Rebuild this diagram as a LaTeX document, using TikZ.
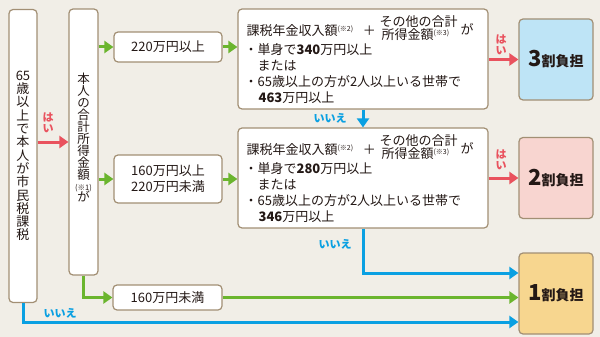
\documentclass[tikz,border=0pt]{standalone}
\usepackage{fontspec}
\setmainfont{Noto Sans CJK JP}
\usetikzlibrary{arrows.meta,calc}
\definecolor{bg}{HTML}{F1EEE7}
\definecolor{bord}{HTML}{A28F74}
\definecolor{ared}{HTML}{E9525E}
\definecolor{agreen}{HTML}{6BB52E}
\definecolor{ablue}{HTML}{0AA0E2}
\definecolor{fblue}{HTML}{BEE4F6}
\definecolor{fpink}{HTML}{F8D5D0}
\definecolor{fyel}{HTML}{F7D68F}
\definecolor{ink}{HTML}{231815}
\newcommand\notesup[1]{\raisebox{4pt}{\fontsize{7}{7}\selectfont (※#1)}}
\newcommand\condtext[3]{%
  \node[txt, anchor=west] (#1t1) at ($(#1.north west)+(9,22)$) {課税年金収入額\notesup{2}};
  \node[txt] (#1t2) at ($(#1.north west)+(132,22)$) {＋};
  \node[txt, anchor=west] (#1t3) at ($(#1.north west)+(142,13)$) {その他の合計};
  \node[txt, anchor=west] (#1t4) at ($(#1.north west)+(144,26)$) {所得金額\notesup{3}};
  \node[txt, anchor=west] (#1t5) at ($(#1.north west)+(223,21)$) {が};
  \node[txt, anchor=west] (#1t6) at ($(#1.north west)+(7,41)$) {・単身で\textbf{#2}万円以上};
  \node[txt, anchor=west] (#1t7) at ($(#1.north west)+(20,57)$) {または};
  \node[txt, anchor=west] (#1t8) at ($(#1.north west)+(7,73)$) {・65歳以上の方が2人以上いる世帯で};
  \node[txt, anchor=west] (#1t9) at ($(#1.north west)+(21,89)$) {\textbf{#3}万円以上};
}
\begin{document}
\begin{tikzpicture}[x=1pt,y=-1pt,
  box/.style={draw=bord, line width=1.2pt, rounded corners=4pt, fill=white, inner sep=0pt, text=ink},
  txt/.style={inner sep=0pt, text=ink, font=\fontsize{13}{16}\selectfont},
  arr/.style={line width=3pt, -{Triangle[length=9pt,width=12pt]}},
  lab/.style={inner sep=0pt, font=\fontsize{11}{11}\selectfont\bfseries, align=center},
  res/.style={box, minimum width=74pt, minimum height=81pt}]
\fill[bg] (0,0) rectangle (600,337);
\useasboundingbox (0,0) rectangle (600,337);

% nodes
\node[box, minimum width=28pt, minimum height=293pt, align=center, font=\fontsize{13}{13.3}\selectfont] (A) at (23,156)
  {65\\歳\\以\\上\\で\\本\\人\\が\\市\\民\\税\\課\\税};
\node[box, minimum width=29pt, minimum height=266pt] (B) at (83.5,142) {};
\node[inner sep=0pt, align=center, text=ink, font=\fontsize{12.5}{12.1}\selectfont] (Bt) at (83.5,137.5)
  {本\\人\\の\\合\\計\\所\\得\\金\\額\\[-1.1pt]{\fontsize{7.5}{8}\selectfont(※1)}\\[-1.1pt]が};
\node[box, minimum width=108pt, minimum height=30pt, font=\fontsize{13}{16}\selectfont] (N1) at (168,47) {220万円以上};
\node[box, minimum width=108pt, minimum height=48pt, align=center, font=\fontsize{13}{16}\selectfont] (N2) at (168,179) {160万円以上\\220万円未満};
\node[box, minimum width=109pt, minimum height=25pt, font=\fontsize{13}{16}\selectfont] (N3) at (167.5,297.5) {160万円未満};
\node[box, minimum width=250pt, minimum height=100pt] (C1) at (363,59) {};
\node[box, minimum width=250pt, minimum height=100pt] (C2) at (363,178) {};
\condtext{C1}{340}{463}
\condtext{C2}{280}{346}
\node[res, fill=fblue] (R3) at (556,59.5) {\bfseries\fontsize{22}{22}\selectfont 3\fontsize{14}{14}\selectfont 割負担};
\node[res, fill=fpink] (R2) at (556,178) {\bfseries\fontsize{22}{22}\selectfont 2\fontsize{14}{14}\selectfont 割負担};
\node[res, fill=fyel] (R1) at (556,293.5) {\bfseries\fontsize{22}{22}\selectfont 1\fontsize{14}{14}\selectfont 割負担};

\coordinate (r1a) at ($(R1.west)+(0,-20.5)$);
\coordinate (r1c) at ($(R1.west)+(0,28.5)$);

% connectors
\draw[arr, ared] (A.east |- B) -- (B.west);
\draw[arr, agreen] (B.east |- N1) -- (N1.west);
\draw[arr, agreen] (B.east |- N2) -- (N2.west);
\draw[arr, agreen] (B.south) |- (N3.west);
\draw[arr, agreen] (N1.east) -- (N1.east -| C1.west);
\draw[arr, agreen] (N2.east) -- (N2.east -| C2.west);
\draw[arr, agreen] (N3.east) -- (N3.east -| R1.west);
\draw[arr, ared] (C1.east |- R3) -- (R3.west);
\draw[arr, ared] (C2.east |- R2) -- (R2.west);
\draw[arr, ablue] (C1.south) -- (C2.north);
\draw[arr, ablue] (C2.south) |- (r1a);
\draw[arr, ablue] (A.south) |- (r1c);

% labels
\node[lab, text=ared] (y1) at (48,123) {は\\い};
\node[lab, text=ared] (y2) at (501,45) {は\\い};
\node[lab, text=ared] (y3) at (501,160) {は\\い};
\node[lab, text=ablue] (n1) at (330,118) {いいえ};
\node[lab, text=ablue] (n2) at (335,244) {いいえ};
\node[lab, text=ablue] (n3) at (60,313) {いいえ};
\end{tikzpicture}
\end{document}
